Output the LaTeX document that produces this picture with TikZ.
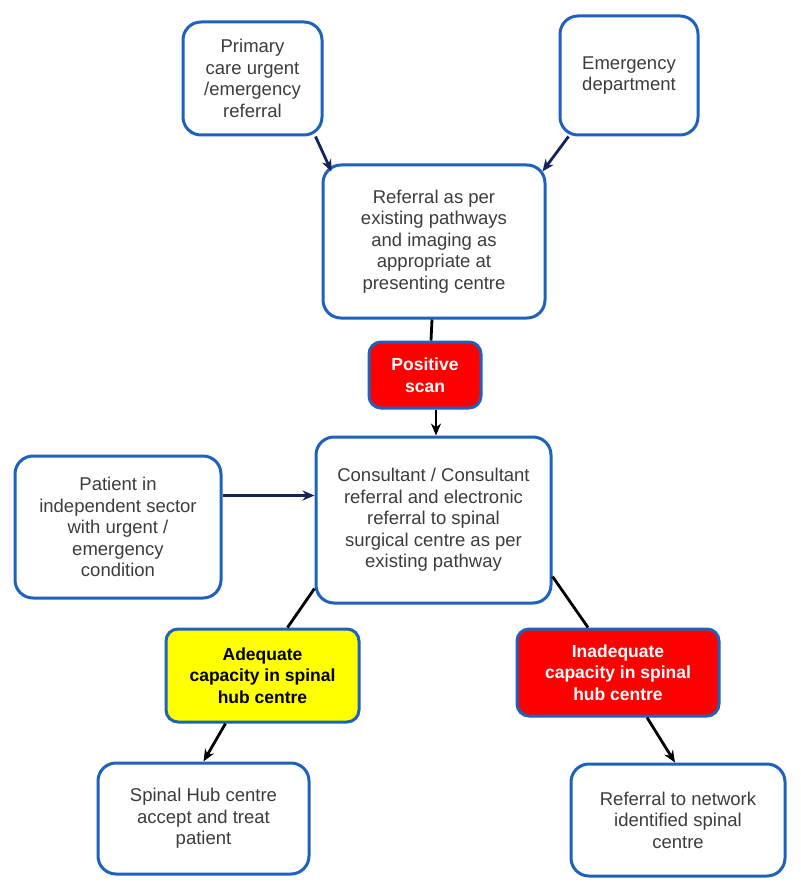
\documentclass[tikz,border=0pt]{standalone}
\usepackage{fontspec}
\setmainfont{Liberation Sans}
\usetikzlibrary{arrows.meta}
\definecolor{bordblue}{RGB}{30,98,190}
\definecolor{navy}{RGB}{20,35,90}
\definecolor{txtgray}{RGB}{60,60,60}
\definecolor{boxred}{RGB}{255,0,0}
\definecolor{boxyellow}{RGB}{255,255,0}
\tikzset{
  flowbox/.style={draw=bordblue, line width=3pt, rounded corners=18pt, fill=white,
    align=center, inner sep=0pt, text=txtgray, font=\fontsize{18.5}{21.5}\selectfont},
  redbox/.style={flowbox, fill=boxred, text=white, font=\bfseries\fontsize{17.5}{21.5}\selectfont, rounded corners=12pt},
  yelbox/.style={flowbox, fill=boxyellow, text=black, font=\bfseries\fontsize{17.5}{21.5}\selectfont, rounded corners=12pt},
  navyarrow/.style={draw=navy, line width=2.8pt, -{Stealth[length=12pt,width=10pt]}},
  blackarrow/.style={draw=black, line width=2.8pt, -{Stealth[length=12pt,width=10pt]}},
  blackline/.style={draw=black, line width=2.8pt},
}
\begin{document}
\begin{tikzpicture}[x=1pt,y=-1pt]
\useasboundingbox (0,0) rectangle (800,885);
\fill[white] (0,0) rectangle (800,885);

\node[flowbox, minimum width=139pt, minimum height=113pt] (prim) at (252.5,78.5)
  {Primary\\care urgent\\/emergency\\referral};
\node[flowbox, minimum width=138pt, minimum height=119pt] (emerg) at (629,75.5)
  {Emergency\\department};
\node[flowbox, minimum width=222pt, minimum height=153pt] (refer) at (434,241.5)
  {Referral as per\\existing pathways\\and imaging as\\appropriate at\\presenting centre};
\node[redbox, minimum width=112pt, minimum height=66pt] (scan) at (425,375)
  {Positive\\scan};
\node[flowbox, minimum width=235pt, minimum height=166pt] (cons) at (433.5,520)
  {Consultant / Consultant\\referral and electronic\\referral to spinal\\surgical centre as per\\existing pathway};
\node[flowbox, minimum width=206pt, minimum height=142pt] (indep) at (118,527)
  {Patient in\\independent sector\\with urgent /\\emergency\\condition};
\node[yelbox, minimum width=193pt, minimum height=93pt] (adeq) at (262.5,675.5)
  {Adequate\\capacity in spinal\\hub centre};
\node[redbox, minimum width=202pt, minimum height=87pt] (inadeq) at (618,672.5)
  {Inadequate\\capacity in spinal\\hub centre};
\node[flowbox, minimum width=211pt, minimum height=111pt] (hub) at (203.5,818.5)
  {Spinal Hub centre\\accept and treat\\patient};
\node[flowbox, minimum width=214pt, minimum height=112pt] (netw) at (678,820)
  {Referral to network\\identified spinal\\centre};

\draw[navyarrow] ([xshift=-8pt]prim.south east) -- ([xshift=10pt,yshift=-8pt]refer.north west);
\draw[navyarrow] ([xshift=10pt]emerg.south west) -- ([xshift=-4pt,yshift=-8pt]refer.north east);
\draw[blackline] ([xshift=-2pt]refer.south) -- ([xshift=6pt]scan.north);
\draw[blackarrow] ([xshift=11pt]scan.south) -- ([xshift=2.5pt]cons.north);
\draw[navyarrow] ([yshift=-41pt]indep.north east) -- ([yshift=-60pt]cons.north west);
\draw[blackline] ([yshift=16pt]cons.south west) -- ([xshift=25pt]adeq.north);
\draw[blackarrow] ([xshift=-37pt]adeq.south) -- ([xshift=0pt]hub.north);
\draw[blackline] ([yshift=28pt]cons.south east) -- ([xshift=-30pt]inadeq.north);
\draw[blackarrow] ([xshift=29pt]inadeq.south) -- ([xshift=-3pt]netw.north);
\end{tikzpicture}
\end{document}
